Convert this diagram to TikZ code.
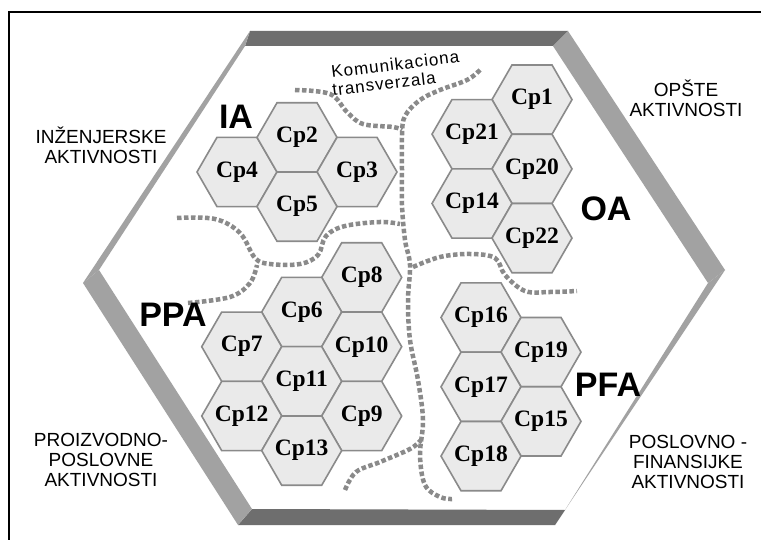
\documentclass[tikz,border=0pt]{standalone}
\usepackage{fontspec}
\setmainfont{Liberation Serif}
\newfontfamily\arialfont{Liberation Sans}
\newfontfamily\spacedarial[LetterSpace=6]{Liberation Sans}
\usetikzlibrary{shapes.geometric}

\definecolor{cellfill}{HTML}{EAEAEA}
\definecolor{cellline}{HTML}{8A8A8A}
\definecolor{banddark}{HTML}{6E6E6E}
\definecolor{bandlight}{HTML}{A2A2A2}
\definecolor{dotgray}{HTML}{8A8A8A}

\tikzset{
  cellshape/.style={draw=cellline, fill=cellfill, line width=1.6pt, line join=miter},
  celltext/.style={inner sep=0pt, font=\fontsize{23.5}{23.5}\selectfont\bfseries},
  grouplabel/.style={inner sep=0pt, font=\arialfont\bfseries\fontsize{34}{34}\selectfont},
  sidelabel/.style={inner sep=0pt, align=center, font=\arialfont\fontsize{19}{20}\selectfont},
  commlabel/.style={inner sep=0pt, anchor=base west, rotate=7, font=\spacedarial\fontsize{17}{17}\selectfont},
  boundary/.style={dotgray, line width=4.5pt, dash pattern=on 4.5pt off 2.5pt},
}

% flat-topped hexagonal cell of circumradius 40 with a named label node
\newcommand\hexcell[4]{%
  \filldraw[cellshape] (#2+40,#3) -- (#2+20,#3+34.64) -- (#2-20,#3+34.64)
    -- (#2-40,#3) -- (#2-20,#3-34.64) -- (#2+20,#3-34.64) -- cycle;
  \node[celltext] (#1) at (#2,#3) {#4};}

\begin{document}
\begin{tikzpicture}[x=1pt, y=-1pt]
\useasboundingbox (0,0) rectangle (761,540);
\fill[white] (0,0) rectangle (761,540);

% outer frame lines
\draw[line width=2pt] (9,540) -- (9,12) -- (761,12);

% bevelled hexagonal frame: outer and inner corners
\coordinate (oTL) at (250,31);  \coordinate (iTL) at (245,46);
\coordinate (oTR) at (568,31);  \coordinate (iTR) at (553,46);
\coordinate (oR)  at (725,270); \coordinate (iR)  at (708,283);
\coordinate (oBR) at (555,525); \coordinate (iBR) at (565,510);
\coordinate (oBL) at (238,525); \coordinate (iBL) at (252,509);
\coordinate (oL)  at (83,283);  \coordinate (iL)  at (99,270);

\fill[banddark]  (oTL) -- (oTR) -- (iTR) -- (iTL) -- cycle;
\fill[bandlight] (oTR) -- (oR) -- (iR) -- (iTR) -- cycle;
\fill[bandlight] (oR) -- (oBR) -- (iBR) -- (iR) -- cycle;
\fill[banddark]  (oBR) -- (oBL) -- (iBL) -- (iBR) -- cycle;
\fill[bandlight] (oBL) -- (oL) -- (iL) -- (iBL) -- cycle;
\fill[bandlight] (oL) -- (oTL) -- (iTL) -- (iL) -- cycle;

% boundaries between the activity groups
\draw[boundary] plot[smooth, tension=0.6] coordinates {(295,90) (330,94) (347,112) (363,124) (393,127) (402,130)};
\draw[boundary] plot[smooth, tension=0.6] coordinates {(480,70) (467,80) (440,90) (420,100) (405,116) (402,135) (402,170) (402,205) (405,240) (410,265) (408,300) (410,340) (418,380) (423,420) (420,455) (425,485) (440,497) (452,499)};
\draw[boundary] plot[smooth, tension=0.6] coordinates {(413,267) (440,257) (470,254) (495,258) (505,275) (525,291) (550,292) (577,291)};
\draw[boundary] plot[smooth, tension=0.6] coordinates {(177,218) (215,219) (240,233) (255,258) (270,264) (300,264) (318,255) (326,236) (345,226) (380,222) (400,224)};
\draw[boundary] plot[smooth, tension=0.6] coordinates {(188,303) (230,297) (250,283) (257,265)};
\draw[boundary] plot[smooth, tension=0.6] coordinates {(345,490) (356,472) (380,462) (410,449) (421,440)};

% IA
\hexcell{cp4}{237}{172}{Cp4}
\hexcell{cp2}{297}{137.4}{Cp2}
\hexcell{cp3}{357}{172}{Cp3}
\hexcell{cp5}{297}{206.6}{Cp5}

% OA
\hexcell{cp1}{532}{99.6}{Cp1}
\hexcell{cp21}{472}{134.2}{Cp21}
\hexcell{cp20}{532}{168.9}{Cp20}
\hexcell{cp14}{472}{203.5}{Cp14}
\hexcell{cp22}{532}{238.1}{Cp22}

% PPA
\hexcell{cp8}{361.7}{277.4}{Cp8}
\hexcell{cp6}{301.7}{312}{Cp6}
\hexcell{cp7}{241.7}{346.7}{Cp7}
\hexcell{cp10}{361.7}{346.7}{Cp10}
\hexcell{cp11}{301.7}{381.3}{Cp11}
\hexcell{cp12}{241.7}{416}{Cp12}
\hexcell{cp9}{361.7}{416}{Cp9}
\hexcell{cp13}{301.7}{450.6}{Cp13}

% PFA
\hexcell{cp16}{481}{317.5}{Cp16}
\hexcell{cp19}{541}{352.1}{Cp19}
\hexcell{cp17}{481}{386.8}{Cp17}
\hexcell{cp15}{541}{421.4}{Cp15}
\hexcell{cp18}{481}{456.1}{Cp18}

% group names
\node[grouplabel] (ia)  at (236,117) {IA};
\node[grouplabel] (oa)  at (606,209) {OA};
\node[grouplabel] (ppa) at (173,315) {PPA};
\node[grouplabel] (pfa) at (608,385) {PFA};

% activity areas
\node[sidelabel] (ing) at (101,145) {INŽENJERSKE\\AKTIVNOSTI};
\node[sidelabel] (ops) at (686,98) {OPŠTE\\AKTIVNOSTI};
\node[sidelabel] (pro) at (101,460) {PROIZVODNO-\\POSLOVNE\\AKTIVNOSTI};
\node[sidelabel] (pos) at (688,462) {POSLOVNO -\\FINANSIJKE\\AKTIVNOSTI};

% communication transversal caption
\node[commlabel] (kt1) at (332,78) {Komunikaciona};
\node[commlabel] (kt2) at (333,96) {transverzala};
\end{tikzpicture}
\end{document}
